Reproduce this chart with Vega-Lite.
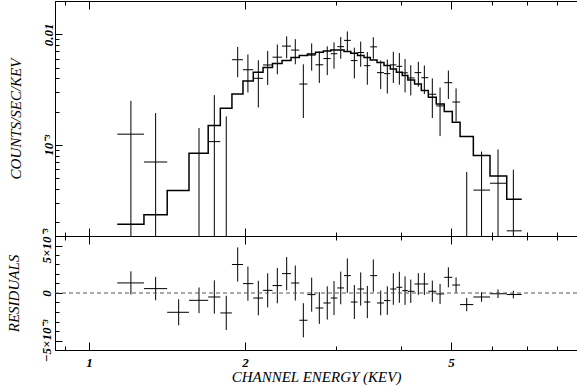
{
  "$schema": "https://vega.github.io/schema/vega-lite/v6.json",
  "padding": {"left": 5, "right": 0, "top": 0, "bottom": 0},
  "background": "white",
  "spacing": 0,
  "bounds": "flush",
  "config": {
    "view": {"stroke": "#000", "strokeWidth": 1},
    "axis": {
      "labelFont": "Liberation Serif", "labelFontStyle": "italic", "labelFontWeight": "bold", "labelFontSize": 13, "labelColor": "#000",
      "titleFont": "Liberation Serif", "titleFontStyle": "italic", "titleFontWeight": "normal", "titleFontSize": 15, "titleColor": "#000",
      "tickColor": "#000", "domainColor": "#000", "grid": false, "labelFlush": false, "labelOverlap": false
    },
    "axisY": {"labelOverlap": false},
    "axisQuantitative": {"labelOverlap": false}
  },
  "datasets": {
    "spec": [
      {"e": 1.205, "elo": 1.134, "ehi": 1.277, "rate": 0.00125, "rlo": 0.00001, "rhi": 0.0025, "res": 0.00106, "qlo": -0.00016, "qhi": 0.00228},
      {"e": 1.345, "elo": 1.277, "ehi": 1.416, "rate": 0.0007, "rlo": 0.00001, "rhi": 0.00194, "res": 0.00046, "qlo": -0.00077, "qhi": 0.00169},
      {"e": 1.49, "elo": 1.416, "ehi": 1.56, "rate": null, "rlo": null, "rhi": null, "res": -0.00203, "qlo": -0.0034, "qhi": -0.00066},
      {"e": 1.631, "elo": 1.56, "ehi": 1.699, "rate": 0.00007, "rlo": 0.00001, "rhi": 0.00142, "res": -0.00077, "qlo": -0.00212, "qhi": 0.00058},
      {"e": 1.746, "elo": 1.699, "ehi": 1.793, "rate": 0.00107, "rlo": 0.00001, "rhi": 0.00282, "res": -0.00042, "qlo": -0.00217, "qhi": 0.00133},
      {"e": 1.841, "elo": 1.793, "ehi": 1.888, "rate": 0.00004, "rlo": 0.00001, "rhi": 0.00181, "res": -0.0021, "qlo": -0.0039, "qhi": -0.0003},
      {"e": 1.937, "elo": 1.888, "ehi": 1.983, "rate": 0.00589, "rlo": 0.00409, "rhi": 0.00769, "res": 0.003, "qlo": 0.0012, "qhi": 0.0048},
      {"e": 2.027, "elo": 1.983, "ehi": 2.076, "rate": 0.00478, "rlo": 0.00298, "rhi": 0.00658, "res": 0.00099, "qlo": -0.00081, "qhi": 0.00279},
      {"e": 2.123, "elo": 2.076, "ehi": 2.168, "rate": 0.004, "rlo": 0.00218, "rhi": 0.00582, "res": -0.00053, "qlo": -0.00235, "qhi": 0.00129},
      {"e": 2.213, "elo": 2.168, "ehi": 2.261, "rate": 0.00528, "rlo": 0.00348, "rhi": 0.00708, "res": 0.00028, "qlo": -0.00152, "qhi": 0.00208},
      {"e": 2.31, "elo": 2.261, "ehi": 2.359, "rate": 0.00621, "rlo": 0.00435, "rhi": 0.00807, "res": 0.00078, "qlo": -0.00108, "qhi": 0.00264},
      {"e": 2.408, "elo": 2.359, "ehi": 2.455, "rate": 0.00782, "rlo": 0.00607, "rhi": 0.00957, "res": 0.00204, "qlo": 0.00029, "qhi": 0.00379},
      {"e": 2.502, "elo": 2.455, "ehi": 2.547, "rate": 0.0072, "rlo": 0.00536, "rhi": 0.00904, "res": 0.00105, "qlo": -0.00079, "qhi": 0.00289},
      {"e": 2.593, "elo": 2.547, "ehi": 2.641, "rate": 0.00355, "rlo": 0.00175, "rhi": 0.00535, "res": -0.00287, "qlo": -0.00467, "qhi": -0.00107},
      {"e": 2.691, "elo": 2.641, "ehi": 2.737, "rate": 0.00648, "rlo": 0.00469, "rhi": 0.00827, "res": -0.00017, "qlo": -0.00196, "qhi": 0.00162},
      {"e": 2.784, "elo": 2.737, "ehi": 2.834, "rate": 0.0053, "rlo": 0.00363, "rhi": 0.00697, "res": -0.00158, "qlo": -0.00325, "qhi": 0.00009},
      {"e": 2.884, "elo": 2.834, "ehi": 2.929, "rate": 0.00603, "rlo": 0.00428, "rhi": 0.00778, "res": -0.00105, "qlo": -0.0028, "qhi": 0.0007},
      {"e": 2.972, "elo": 2.929, "ehi": 3.016, "rate": 0.00667, "rlo": 0.00488, "rhi": 0.00846, "res": -0.00053, "qlo": -0.00232, "qhi": 0.00126},
      {"e": 3.062, "elo": 3.016, "ehi": 3.107, "rate": 0.00773, "rlo": 0.00601, "rhi": 0.00945, "res": 0.00053, "qlo": -0.00119, "qhi": 0.00225},
      {"e": 3.153, "elo": 3.107, "ehi": 3.202, "rate": 0.00881, "rlo": 0.007, "rhi": 0.01062, "res": 0.00183, "qlo": 0.00002, "qhi": 0.00364},
      {"e": 3.253, "elo": 3.202, "ehi": 3.299, "rate": 0.00578, "rlo": 0.00399, "rhi": 0.00757, "res": -0.00095, "qlo": -0.00274, "qhi": 0.00084},
      {"e": 3.346, "elo": 3.299, "ehi": 3.396, "rate": 0.00684, "rlo": 0.00509, "rhi": 0.00859, "res": 0.00042, "qlo": -0.00133, "qhi": 0.00217},
      {"e": 3.446, "elo": 3.396, "ehi": 3.492, "rate": 0.0052, "rlo": 0.0035, "rhi": 0.0069, "res": -0.00095, "qlo": -0.00265, "qhi": 0.00075},
      {"e": 3.539, "elo": 3.492, "ehi": 3.598, "rate": 0.0077, "rlo": 0.006, "rhi": 0.0094, "res": 0.00183, "qlo": 0.00013, "qhi": 0.00353},
      {"e": 3.657, "elo": 3.598, "ehi": 3.711, "rate": 0.0045, "rlo": 0.0032, "rhi": 0.0058, "res": -0.00105, "qlo": -0.00235, "qhi": 0.00025},
      {"e": 3.766, "elo": 3.711, "ehi": 3.817, "rate": 0.00441, "rlo": 0.00291, "rhi": 0.00591, "res": -0.0008, "qlo": -0.0023, "qhi": 0.0007},
      {"e": 3.868, "elo": 3.817, "ehi": 3.921, "rate": 0.00529, "rlo": 0.00363, "rhi": 0.00695, "res": 0.00042, "qlo": -0.00124, "qhi": 0.00208},
      {"e": 3.973, "elo": 3.921, "ehi": 4.025, "rate": 0.00513, "rlo": 0.0035, "rhi": 0.00676, "res": 0.0006, "qlo": -0.00103, "qhi": 0.00223},
      {"e": 4.075, "elo": 4.025, "ehi": 4.126, "rate": 0.00448, "rlo": 0.00298, "rhi": 0.00598, "res": 0.00025, "qlo": -0.00125, "qhi": 0.00175},
      {"e": 4.18, "elo": 4.126, "ehi": 4.251, "rate": 0.00403, "rlo": 0.0028, "rhi": 0.00526, "res": 0.00018, "qlo": -0.00105, "qhi": 0.00141},
      {"e": 4.323, "elo": 4.251, "ehi": 4.381, "rate": 0.0045, "rlo": 0.00336, "rhi": 0.00564, "res": 0.00095, "qlo": -0.00019, "qhi": 0.00209},
      {"e": 4.44, "elo": 4.381, "ehi": 4.519, "rate": 0.00405, "rlo": 0.00288, "rhi": 0.00522, "res": 0.00095, "qlo": -0.00022, "qhi": 0.00212},
      {"e": 4.6, "elo": 4.519, "ehi": 4.681, "rate": 0.00287, "rlo": 0.00175, "rhi": 0.00399, "res": 0.00018, "qlo": -0.00094, "qhi": 0.0013},
      {"e": 4.761, "elo": 4.681, "ehi": 4.851, "rate": 0.00225, "rlo": 0.0012, "rhi": 0.0033, "res": -0.0001, "qlo": -0.00115, "qhi": 0.00095},
      {"e": 4.94, "elo": 4.851, "ehi": 5.027, "rate": 0.00365, "rlo": 0.0026, "rhi": 0.0047, "res": 0.00165, "qlo": 0.0006, "qhi": 0.0027},
      {"e": 5.112, "elo": 5.027, "ehi": 5.204, "rate": 0.00244, "rlo": 0.00164, "rhi": 0.00324, "res": 0.00084, "qlo": 0.00004, "qhi": 0.00164},
      {"e": 5.36, "elo": 5.204, "ehi": 5.52, "rate": null, "rlo": 0.00001, "rhi": 0.00057, "res": -0.00122, "qlo": -0.00192, "qhi": -0.00052},
      {"e": 5.725, "elo": 5.52, "ehi": 5.944, "rate": 0.00039, "rlo": 0.00001, "rhi": 0.00087, "res": -0.00042, "qlo": -0.00092, "qhi": 0.00008},
      {"e": 6.16, "elo": 5.944, "ehi": 6.403, "rate": 0.00045, "rlo": 0.00001, "rhi": 0.00091, "res": -0.00008, "qlo": -0.00053, "qhi": 0.00037},
      {"e": 6.594, "elo": 6.403, "ehi": 6.844, "rate": 0.000167, "rlo": 0.00001, "rhi": 0.000597, "res": -0.00016, "qlo": -0.00056, "qhi": 0.00024}
    ],
    "model": [
      {"edge": 1.134, "m": 0.0001915}, {"edge": 1.277, "m": 0.000233}, {"edge": 1.416, "m": 0.000386},
      {"edge": 1.56, "m": 0.000839}, {"edge": 1.699, "m": 0.001494}, {"edge": 1.793, "m": 0.002143},
      {"edge": 1.888, "m": 0.002891}, {"edge": 1.983, "m": 0.00379}, {"edge": 2.076, "m": 0.004533},
      {"edge": 2.168, "m": 0.005}, {"edge": 2.261, "m": 0.005433}, {"edge": 2.359, "m": 0.005784},
      {"edge": 2.455, "m": 0.006155}, {"edge": 2.547, "m": 0.006418}, {"edge": 2.641, "m": 0.00665},
      {"edge": 2.737, "m": 0.006875}, {"edge": 2.834, "m": 0.007078}, {"edge": 2.929, "m": 0.007196},
      {"edge": 3.016, "m": 0.007196}, {"edge": 3.107, "m": 0.006975}, {"edge": 3.202, "m": 0.006733},
      {"edge": 3.299, "m": 0.006418}, {"edge": 3.396, "m": 0.006155}, {"edge": 3.492, "m": 0.005869},
      {"edge": 3.598, "m": 0.005547}, {"edge": 3.711, "m": 0.005212}, {"edge": 3.817, "m": 0.004865},
      {"edge": 3.921, "m": 0.004533}, {"edge": 4.025, "m": 0.004231}, {"edge": 4.126, "m": 0.003853},
      {"edge": 4.251, "m": 0.003545}, {"edge": 4.381, "m": 0.003097}, {"edge": 4.519, "m": 0.002694},
      {"edge": 4.681, "m": 0.002348}, {"edge": 4.851, "m": 0.002}, {"edge": 5.027, "m": 0.001601},
      {"edge": 5.204, "m": 0.001189}, {"edge": 5.52, "m": 0.0008}, {"edge": 5.944, "m": 0.0005245},
      {"edge": 6.403, "m": 0.0003222}, {"edge": 6.844, "m": 0.0003222}
    ],
    "zero": [{"z": 0}]
  },
  "vconcat": [
    {
      "width": 522,
      "height": 235,
      "layer": [
        {
          "data": {"name": "model"},
          "mark": {"type": "line", "interpolate": "step-after", "color": "#000", "strokeWidth": 1.5, "clip": true},
          "encoding": {
            "x": {"field": "edge", "type": "quantitative", "scale": {"type": "log", "domain": [0.86, 8.75], "nice": false},
                  "axis": {"orient": "top", "labels": false, "title": null, "values": [0.9, 1, 2, 3, 4, 5, 6, 7, 8],
                           "tickSize": {"condition": {"test": "datum.value == 1 || datum.value == 2 || datum.value == 5", "value": -8}, "value": -4}}},
            "y": {"field": "m", "type": "quantitative", "scale": {"type": "log", "domain": [0.00015, 0.02], "nice": false},
                  "axis": {"title": "COUNTS/SEC/KEV", "titlePadding": 16, "labelPadding": 7, "labelAngle": -90, "labelOverlap": false,
                           "tickSize": {"condition": {"test": "datum.value == 0.01 || datum.value == 0.001", "value": -7}, "value": -4},
                           "values": [0.0002, 0.0003, 0.0004, 0.0005, 0.0006, 0.0007, 0.0008, 0.0009, 0.001, 0.002, 0.003, 0.004, 0.005, 0.006, 0.007, 0.008, 0.009, 0.01],
                           "labelExpr": "datum.value == 0.01 ? '0.01' : (datum.value == 0.001 ? '10⁻³' : '')"}}
          }
        },
        {
          "data": {"name": "spec"},
          "mark": {"type": "rule", "color": "#000", "strokeWidth": 1, "clip": true},
          "encoding": {
            "x": {"field": "elo", "type": "quantitative", "scale": {"type": "log", "domain": [0.86, 8.75], "nice": false},
                  "axis": {"orient": "bottom", "labels": false, "title": null, "values": [0.9, 1, 2, 3, 4, 5, 6, 7, 8],
                           "tickSize": {"condition": {"test": "datum.value == 1 || datum.value == 2 || datum.value == 5", "value": -8}, "value": -4}}},
            "x2": {"field": "ehi"},
            "y": {"field": "rate", "type": "quantitative", "scale": {"type": "log", "domain": [0.00015, 0.02], "nice": false}}
          }
        },
        {
          "data": {"name": "spec"},
          "mark": {"type": "rule", "color": "#000", "strokeWidth": 1, "clip": true},
          "encoding": {
            "x": {"field": "e", "type": "quantitative", "scale": {"type": "log", "domain": [0.86, 8.75], "nice": false}, "axis": null},
            "y": {"field": "rlo", "type": "quantitative", "scale": {"type": "log", "domain": [0.00015, 0.02], "nice": false}},
            "y2": {"field": "rhi"}
          }
        }
      ],
      "resolve": {"axis": {"x": "independent"}}
    },
    {
      "width": 522,
      "height": 114,
      "layer": [
        {
          "data": {"name": "spec"},
          "mark": {"type": "rule", "color": "#000", "strokeWidth": 1, "clip": true},
          "encoding": {
            "x": {"field": "e", "type": "quantitative", "scale": {"type": "log", "domain": [0.86, 8.75], "nice": false},
                  "axis": {"orient": "bottom", "title": "CHANNEL ENERGY (KEV)", "titlePadding": -4, "labelPadding": 14, "values": [0.9, 1, 2, 3, 4, 5, 6, 7, 8],
                           "labelExpr": "datum.value == 1 ? '1' : (datum.value == 2 ? '2' : (datum.value == 5 ? '5' : ''))",
                           "tickSize": {"condition": {"test": "datum.value == 1 || datum.value == 2 || datum.value == 5", "value": -8}, "value": -4}}},
            "y": {"field": "qlo", "type": "quantitative", "scale": {"domain": [-0.006, 0.006], "nice": false},
                  "axis": {"title": "RESIDUALS", "titlePadding": 16, "labelAngle": -90, "labelPadding": 9, "labelOverlap": false,
                           "tickSize": {"condition": {"test": "datum.value == 0.005 || datum.value == 0 || datum.value == -0.005", "value": -7}, "value": -4},
                           "values": [-0.005, -0.004, -0.003, -0.002, -0.001, 0, 0.001, 0.002, 0.003, 0.004, 0.005],
                           "labelExpr": "datum.value == 0.005 ? '5×10⁻³' : (datum.value == 0 ? '0' : (datum.value == -0.005 ? '−5×10⁻³' : ''))"}},
            "y2": {"field": "qhi"}
          }
        },
        {
          "data": {"name": "spec"},
          "mark": {"type": "rule", "color": "#000", "strokeWidth": 1, "clip": true},
          "encoding": {
            "x": {"field": "elo", "type": "quantitative", "scale": {"type": "log", "domain": [0.86, 8.75], "nice": false},
                  "axis": {"orient": "top", "labels": false, "title": null, "values": [0.9, 1, 2, 3, 4, 5, 6, 7, 8],
                           "tickSize": {"condition": {"test": "datum.value == 1 || datum.value == 2 || datum.value == 5", "value": -8}, "value": -4}}},
            "x2": {"field": "ehi"},
            "y": {"field": "res", "type": "quantitative", "scale": {"domain": [-0.006, 0.006], "nice": false},
                  "axis": {"title": "RESIDUALS", "titlePadding": 16, "labelAngle": -90, "labelPadding": 9, "labelOverlap": false,
                           "tickSize": {"condition": {"test": "datum.value == 0.005 || datum.value == 0 || datum.value == -0.005", "value": -7}, "value": -4},
                           "values": [-0.005, -0.004, -0.003, -0.002, -0.001, 0, 0.001, 0.002, 0.003, 0.004, 0.005],
                           "labelExpr": "datum.value == 0.005 ? '5×10⁻³' : (datum.value == 0 ? '0' : (datum.value == -0.005 ? '−5×10⁻³' : ''))"}}
          }
        },
        {
          "data": {"name": "zero"},
          "mark": {"type": "rule", "color": "#555", "strokeWidth": 1, "strokeDash": [4, 3]},
          "encoding": {"y": {"field": "z", "type": "quantitative", "scale": {"domain": [-0.006, 0.006], "nice": false},
                  "axis": {"title": "RESIDUALS", "titlePadding": 16, "labelAngle": -90, "labelPadding": 9, "labelOverlap": false,
                           "tickSize": {"condition": {"test": "datum.value == 0.005 || datum.value == 0 || datum.value == -0.005", "value": -7}, "value": -4},
                           "values": [-0.005, -0.004, -0.003, -0.002, -0.001, 0, 0.001, 0.002, 0.003, 0.004, 0.005],
                           "labelExpr": "datum.value == 0.005 ? '5×10⁻³' : (datum.value == 0 ? '0' : (datum.value == -0.005 ? '−5×10⁻³' : ''))"}}}
        }
      ],
      "resolve": {"axis": {"x": "independent"}}
    }
  ]
}
